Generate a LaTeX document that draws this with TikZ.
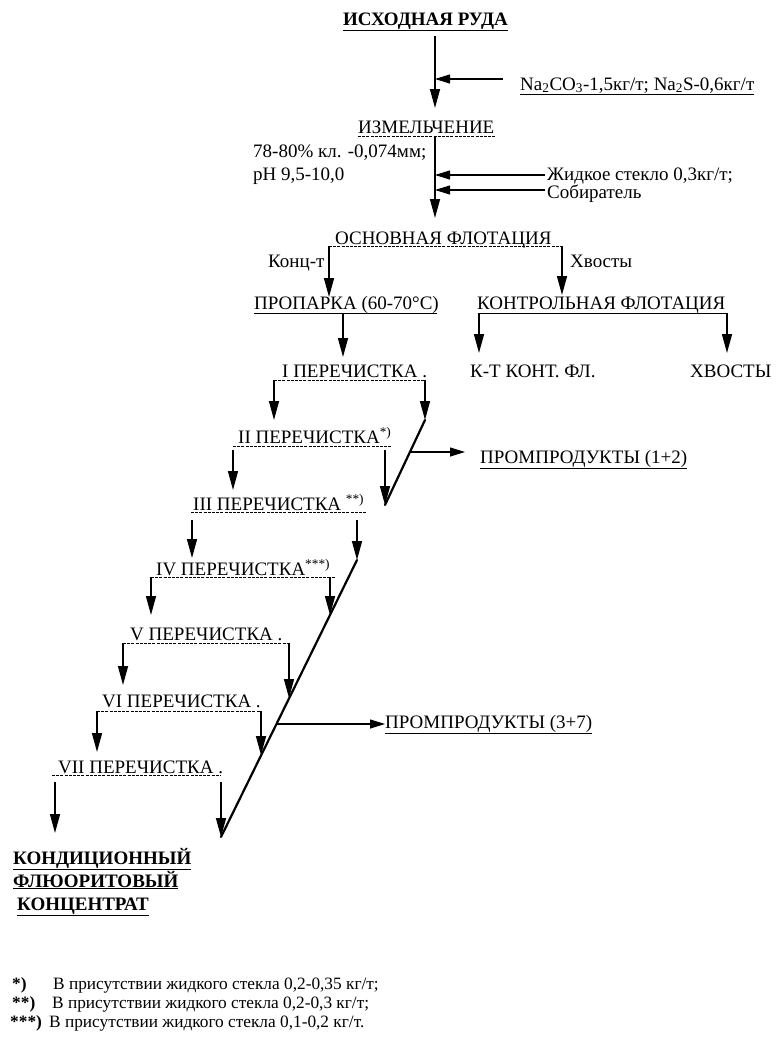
\documentclass[tikz,border=0pt]{standalone}
\usepackage{fontspec}
\setmainfont{Liberation Serif}
\usepackage{tikz}
\usetikzlibrary{arrows.meta}
\tikzset{
  flowarrow/.style={-{Triangle[length=19pt,width=10pt]}, line width=1.5pt},
  feedarrow/.style={-{Triangle[length=15pt,width=9pt]}, line width=1.1pt},
  flowline/.style={line width=0.7pt, dash pattern=on 3pt off 1.2pt},
  splitline/.style={line width=0.8pt},
  tailline/.style={line width=2.2pt, line cap=round},
}

\begin{document}
\begin{tikzpicture}[x=1pt, y=-1pt,
    stage/.style={anchor=base west, inner sep=0pt, font=\fontsize{19}{22}\selectfont},
    head/.style={stage, font=\fontsize{19}{22}\selectfont\bfseries},
    note/.style={anchor=base west, inner sep=0pt, font=\fontsize{17.3}{20}\selectfont}]
  \useasboundingbox (0,0) rectangle (780,1052);
  % исходная руда и реагенты
  \node[head] (isx) at (343,25) {\underline{ИСХОДНАЯ РУДА}};
  \node[stage] (na) at (520,90) {\underline{Na\textsubscript{2}CO\textsubscript{3}-1,5кг/т; Na\textsubscript{2}S-0,6кг/т}};
  \coordinate (m0) at (435,36);
  \coordinate (m1) at (435,108);
  \coordinate (r1) at (503,79);
  \draw[flowarrow] (m0) -- (m1);
  \draw[feedarrow] (r1) -- (r1 -| m0);
  % измельчение
  \node[stage] (izm) at (358,133) {ИЗМЕЛЬЧЕНИЕ};
  \draw[flowline] ([yshift=-3pt]izm.base west) -- ([yshift=-3pt]izm.base east);
  \node[stage] (gr1) at (253,157) {78-80\% кл. -0,074мм;};
  \node[stage] (gr2) at (253,180) {pH 9,5-10,0};
  \node[stage] (zh) at (547,180) {Жидкое стекло 0,3кг/т;};
  \node[stage] (sob) at (547,198) {Собиратель};
  \coordinate (m2) at (435,137);
  \coordinate (m3) at (435,218);
  \coordinate (r2) at (545,175);
  \coordinate (r3) at (545,190);
  \draw[flowarrow] (m2) -- (m3);
  \draw[feedarrow] (r2) -- (r2 -| m2);
  \draw[feedarrow] (r3) -- (r3 -| m2);
  % основная флотация
  \node[stage] (osn) at (335,244) {ОСНОВНАЯ ФЛОТАЦИЯ};
  \node[stage] (konc) at (268,267) {Конц-т};
  \node[stage] (hv) at (570,267) {Хвосты};
  \coordinate (osnl) at (329,246);
  \coordinate (osnr) at (562,246);
  \draw[flowline] (osnl) -- (osnr);
  \draw[flowarrow] (osnl) -- (329,297) coordinate (propin);
  \draw[flowarrow] (osnr) -- (562,295) coordinate (kfin);
  % пропарка и контрольная флотация
  \node[stage] (prop) at (254,309) {ПРОПАРКА (60-70°C)};
  \node[stage] (kf) at (477,309) {КОНТРОЛЬНАЯ ФЛОТАЦИЯ};
  \node[stage] (ktk) at (470,377) {К-Т КОНТ. ФЛ.};
  \node[stage] (xv) at (690,377) {ХВОСТЫ};
  \draw[splitline] (254,313) -- (437,313);
  \coordinate (propout) at (343,313);
  \draw[flowarrow] (propout) -- (343,357) coordinate (p1in);
  \coordinate (kfl) at (479,313);
  \coordinate (kfr) at (727,313);
  \draw[splitline] (kfl) -- (kfr);
  \draw[flowarrow] (kfl) -- (479,353) coordinate (ktkin);
  \draw[flowarrow] (kfr) -- (727,353) coordinate (xvin);
  % перечистки
  \node[stage] (p1) at (282,377) {I ПЕРЕЧИСТКА .};
  \node[stage] (p2) at (238,443) {II ПЕРЕЧИСТКА\textsuperscript{*)}};
  \node[stage] (p3) at (193,510) {III ПЕРЕЧИСТКА \textsuperscript{**)}};
  \node[stage] (p4) at (156,575) {IV ПЕРЕЧИСТКА\textsuperscript{***)}};
  \node[stage] (p5) at (130,640) {V ПЕРЕЧИСТКА .};
  \node[stage] (p6) at (102,707) {VI ПЕРЕЧИСТКА .};
  \node[stage] (p7) at (58,773) {VII ПЕРЕЧИСТКА .};
  \coordinate (p1l) at (274,380);  \coordinate (p1r) at (425,380);
  \coordinate (p2l) at (233,446);  \coordinate (p2r) at (391,446);
  \coordinate (p3l) at (191,512);  \coordinate (p3r) at (367,512);
  \coordinate (p4l) at (151,577);  \coordinate (p4r) at (335,577);
  \coordinate (p5l) at (123,643);  \coordinate (p5r) at (289,643);
  \coordinate (p6l) at (97,711);   \coordinate (p6r) at (261,711);
  \coordinate (p7l) at (52,775);   \coordinate (p7r) at (221,775);
  \foreach \k in {1,...,7} {
    \draw[flowline] (p\k l) -- (p\k r);
  }
  % концентрат вниз, хвосты перечисток вправо
  \draw[flowarrow] (p1l) -- (274,420) coordinate (c1);
  \draw[flowarrow] (p1r) -- (425,420) coordinate (t1);
  \draw[flowarrow] (233,450) -- (233,490) coordinate (c2);
  \draw[flowarrow] (385,450) -- (385,505) coordinate (t2);
  \draw[flowarrow] (192,520) -- (192,558) coordinate (c3);
  \draw[flowarrow] (357,520) -- (357,560) coordinate (t3);
  \draw[flowarrow] (p4l) -- (151,615) coordinate (c4);
  \draw[flowarrow] (330,577) -- (330,615) coordinate (t4);
  \draw[flowarrow] (p5l) -- (123,685) coordinate (c5);
  \draw[flowarrow] (p5r) -- (289,698) coordinate (t5);
  \draw[flowarrow] (p6l) -- (97,752) coordinate (c6);
  \draw[flowarrow] (p6r) -- (261,755) coordinate (t6);
  \draw[flowarrow] (55,782) -- (55,833) coordinate (c7);
  \draw[flowarrow] (221,782) -- (221,837) coordinate (t7);
  % промпродукты
  \draw[tailline] (t1) -- (t2);
  \draw[tailline] (t3) -- (t7);
  \node[stage] (pp1) at (480,463) {\underline{ПРОМПРОДУКТЫ (1+2)}};
  \node[stage] (pp2) at (385,728) {\underline{ПРОМПРОДУКТЫ (3+7)}};
  \coordinate (pp1s) at (411,452);
  \coordinate (pp2s) at (277,724);
  \draw[feedarrow] (pp1s) -- (465,452);
  \draw[feedarrow] (pp2s) -- (pp2.west |- pp2s);
  % готовый концентрат
  \node[head] (kk1) at (13,864) {\underline{КОНДИЦИОННЫЙ}};
  \node[head] (kk2) at (13,887) {\underline{ФЛЮОРИТОВЫЙ}};
  \node[head] (kk3) at (17,910) {\underline{КОНЦЕНТРАТ}};
  % примечания
  \node[note] (f1) at (12,989) {\makebox[41pt][l]{\textbf{*)}}В присутствии жидкого стекла 0,2-0,35 кг/т;};
  \node[note] (f2) at (12,1008) {\makebox[40pt][l]{\textbf{**)}}В присутствии жидкого стекла 0,2-0,3 кг/т;};
  \node[note] (f3) at (10,1027) {\makebox[39pt][l]{\textbf{***)}}В присутствии жидкого стекла 0,1-0,2 кг/т.};
\end{tikzpicture}
\end{document}
